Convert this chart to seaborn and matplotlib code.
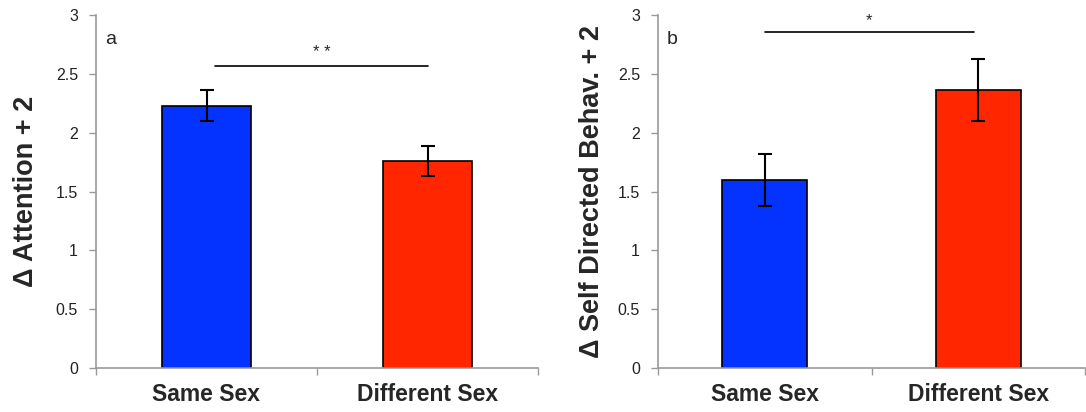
import matplotlib
matplotlib.use("Agg")
import matplotlib.pyplot as plt
import seaborn as sns
import pandas as pd
from matplotlib.ticker import FuncFormatter

categories = ["Same Sex", "Different Sex"]
attention = [2.23, 1.76]
attention_err = [0.13, 0.125]
selfdir = [1.60, 2.36]
selfdir_err = [0.22, 0.265]
colors = ["#0433FF", "#FF2600"]
yticks = [0, 0.5, 1, 1.5, 2, 2.5, 3]

sns.set_style("white")
plt.rcParams['font.family'] = ['Liberation Sans', 'DejaVu Sans']

fig = plt.figure(figsize=(10.86, 4.12), dpi=100)
ax_a = fig.add_axes([96/1086, 1-368/412, 442/1086, 353/412])
ax_b = fig.add_axes([658/1086, 1-368/412, 427/1086, 353/412])

def draw(ax, vals, errs, ylabel, letter, sig_y, sig_x, stars, star_y, lpad):
    df = pd.DataFrame({"cat": categories, "val": vals})
    sns.barplot(data=df, x="cat", y="val", hue="cat", palette=colors,
                saturation=1, width=0.4, edgecolor="black", linewidth=1.2, ax=ax,
                legend=False, errorbar=None)
    ax.errorbar(range(len(vals)), vals, yerr=errs, fmt="none", ecolor="black",
                elinewidth=1.5, capsize=5, capthick=1.5)
    ax.set_xlim(-0.5, 1.5)
    ax.set_ylim(0, 3)
    ax.set_yticks(yticks)
    ax.yaxis.set_major_formatter(FuncFormatter(lambda v, p: f"{v:g}"))
    ax.set_xticks([0, 1])
    ax.set_xticklabels(categories, fontsize=16.5, fontweight="bold")
    ax.set_xticks([-0.5, 0.5, 1.5], minor=True)
    ax.tick_params(axis="x", which="major", length=0, pad=11)
    ax.tick_params(axis="x", which="minor", length=5, width=1, color="#999999", direction="out", bottom=True)
    ax.tick_params(axis="y", labelsize=11.5, length=5, width=1, pad=8, color="#999999", direction="out", left=True, labelcolor="#222222")
    ax.set_xlabel("")
    ax.set_ylabel(ylabel, fontsize=19.5, fontweight="bold", labelpad=lpad)
    for s in ["top", "right"]:
        ax.spines[s].set_visible(False)
    for s in ["left", "bottom"]:
        ax.spines[s].set_color("#999999")
        ax.spines[s].set_linewidth(1.2)
    ax.text(0.02, 0.955, letter, transform=ax.transAxes, fontsize=14, va="top", ha="left")
    ax.plot(sig_x, [sig_y, sig_y], color="black", lw=1.2)
    ax.text(sum(sig_x)/2, star_y, stars, ha="center", va="center", fontsize=12)

draw(ax_a, attention, attention_err, "Δ Attention + 2", "a", 2.57, [0.04, 1.0], "* *", 2.68, 12)
draw(ax_b, selfdir, selfdir_err, "Δ Self Directed Behav. + 2", "b", 2.855, [0.0, 0.98], "*", 2.95, 9)

fig.savefig("out.png", dpi=100)
